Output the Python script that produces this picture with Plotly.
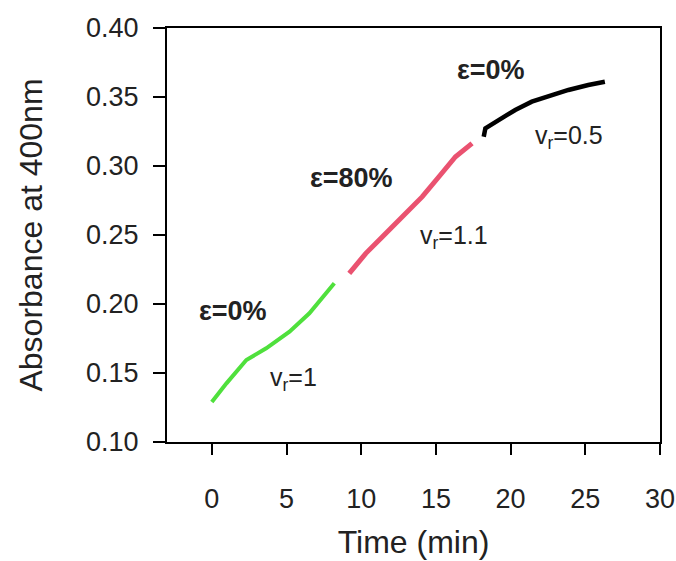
import plotly.graph_objects as go

# Data
green_x = [0.0, 0.98, 2.31, 3.64, 5.2, 6.53, 8.2]
green_y = [0.129, 0.1425, 0.1594, 0.1679, 0.180, 0.1933, 0.215]

red_x = [9.2, 10.31, 11.42, 12.76, 14.09, 15.2, 16.31, 17.42]
red_y = [0.2222, 0.2367, 0.2488, 0.2633, 0.2778, 0.2922, 0.3067, 0.3164]

black_x = [18.2, 18.31, 19.2, 20.31, 21.42, 22.53, 23.87, 25.2, 26.31]
black_y = [0.3212, 0.3273, 0.3333, 0.3406, 0.3466, 0.3507, 0.3551, 0.3587, 0.3611]

x_ticks = [0, 5, 10, 15, 20, 25, 30]
y_ticks = [0.10, 0.15, 0.20, 0.25, 0.30, 0.35, 0.40]

labels_text = ["<b>ε=0%</b>", "v<sub>r</sub>=1", "<b>ε=80%</b>", "v<sub>r</sub>=1.1",
               "<b>ε=0%</b>", "v<sub>r</sub>=0.5"]
labels_x = [1.4, 5.47, 9.33, 16.2, 18.67, 23.93]
labels_y = [0.195, 0.146, 0.291, 0.2486, 0.3696, 0.321]
labels_size = [27, 25, 27, 25, 27, 25]

FONT = "Arial, Liberation Sans, sans-serif"

fig = go.Figure()
fig.add_trace(go.Scatter(x=green_x, y=green_y, mode="lines",
                         line=dict(color="#4FE03C", width=4),
                         showlegend=False))
fig.add_trace(go.Scatter(x=red_x, y=red_y, mode="lines",
                         line=dict(color="#EA5270", width=5),
                         showlegend=False))
fig.add_trace(go.Scatter(x=black_x, y=black_y, mode="lines",
                         line=dict(color="#000000", width=4.5),
                         showlegend=False))

for t, x, y, s in zip(labels_text, labels_x, labels_y, labels_size):
    fig.add_annotation(x=x, y=y, text=t, showarrow=False,
                       font=dict(family=FONT, size=s, color="#222222"),
                       xanchor="center", yanchor="middle")

fig.update_layout(
    width=676, height=561,
    margin=dict(l=167, r=16, t=28, b=119),
    paper_bgcolor="white", plot_bgcolor="white",
    font=dict(family=FONT, color="#222222"),
)
fig.update_xaxes(
    range=[-3, 30], tickvals=x_ticks, ticktext=[str(v) for v in x_ticks],
    showgrid=False, zeroline=False, automargin=False,
    showline=True, linecolor="black", linewidth=2, mirror=True,
    ticks="outside", ticklen=11, tickwidth=2, tickcolor="black",
    tickfont=dict(size=27), ticklabelstandoff=21,
    title=dict(text="Time (min)", font=dict(size=32), standoff=17),
)
fig.update_yaxes(
    range=[0.10, 0.40], tickvals=y_ticks, ticktext=[f"{v:.2f}" for v in y_ticks],
    showgrid=False, zeroline=False, automargin=False,
    showline=True, linecolor="black", linewidth=2, mirror=True,
    ticks="outside", ticklen=12, tickwidth=2, tickcolor="black",
    tickfont=dict(size=27), ticklabelstandoff=9,
    title=dict(text="Absorbance at 400nm", font=dict(size=32), standoff=34),
)

fig.write_html(
    "out.html",
    config={"displayModeBar": False},
    post_script="document.body.style.margin='0';document.body.style.overflow='hidden';",
)
